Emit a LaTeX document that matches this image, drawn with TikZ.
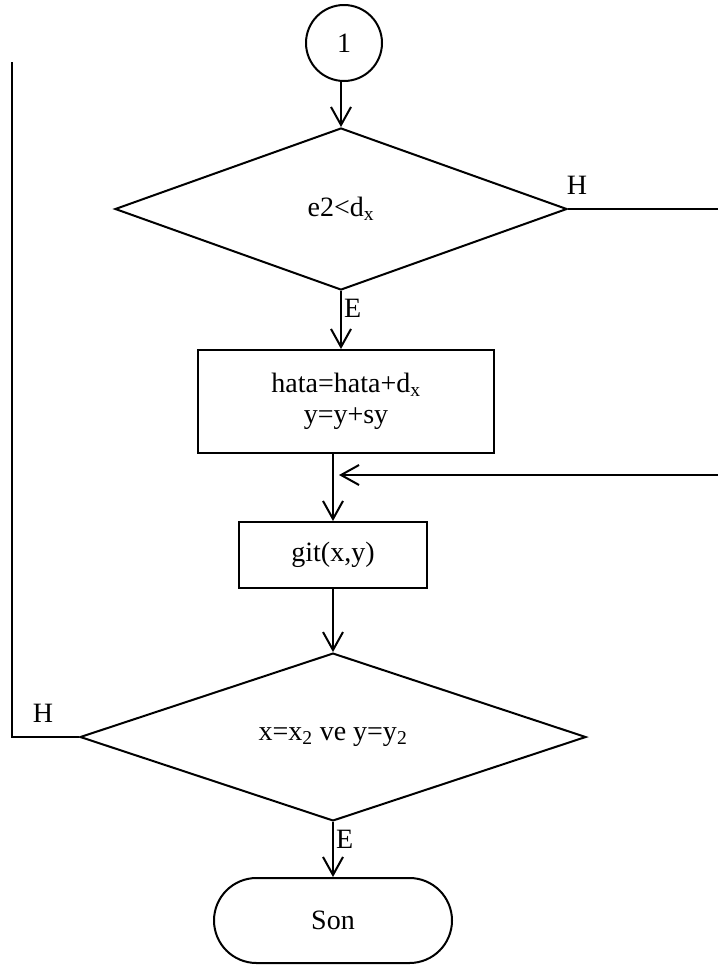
\documentclass[tikz,border=0pt]{standalone}
\usepackage{fontspec}
\setmainfont{Liberation Serif}
\usetikzlibrary{arrows.meta,shapes.geometric,shapes.misc}

\tikzset{
  hat/.style={line width=2pt},
  ok/.style={hat,-{Straight Barb[length=18pt,width=20pt,line width=2pt]}},
  karar/.style={draw,diamond,line width=2pt,inner sep=0pt},
  islem/.style={draw,rectangle,line width=2pt,inner sep=0pt,align=center},
  baglanti/.style={draw,circle,line width=2pt,inner sep=0pt,minimum size=76pt},
  bitis/.style={draw,rounded rectangle,line width=2pt,inner sep=0pt},
  etiket/.style={inner sep=0pt}
}

\begin{document}
\begin{tikzpicture}[x=1pt,y=-1pt,font=\fontsize{28}{31}\selectfont]
    \useasboundingbox (0,0) rectangle (718,967);

    \node[baglanti] (c1) at (344,43) {1};
    \node[karar,minimum width=452pt,minimum height=162pt] (d1) at (341,209) {e2<d\textsubscript{x}};
    \node[islem,minimum width=296pt,minimum height=103pt] (b1) at (346,401.5) {hata=hata+d\textsubscript{x}\\y=y+sy};
    \node[islem,minimum width=188pt,minimum height=66pt] (g1) at (333,555) {git(x,y)};
    \node[karar,minimum width=506pt,minimum height=146pt] (d2) at (333,737) {x=x\textsubscript{2} ve y=y\textsubscript{2}};
    \node[bitis,minimum width=238pt,minimum height=85pt] (son) at (333,920.5) {Son};

    \coordinate (sagust) at (718,209);
    \coordinate (sagalt) at (718,475);
    \coordinate (donus) at (g1.north |- sagalt);
    \coordinate (solalt) at (12,737);
    \coordinate (solust) at (12,62);

    \draw[ok] (d1.north |- c1.south) -- (d1.north);
    \draw[ok] (d1.south) -- (d1.south |- b1.north);
    \draw[ok] (g1.north |- b1.south) -- (g1.north);
    \draw[ok] (g1.south) -- (d2.north);
    \draw[ok] (d2.south) -- (son.north);

    \draw[hat] (d1.east) -- (sagust);
    \draw[ok] (sagalt) -- ([xshift=6pt]donus);
    \draw[hat] (d2.west) -- (solalt) -- (solust);

    \node[etiket] (h1) at (577,185) {H};
    \node[etiket] (h2) at (43,713) {H};
    \node[etiket,anchor=west] (e1) at ([xshift=3pt,yshift=-17pt]d1.south) {E};
    \node[etiket,anchor=west] (e2) at ([xshift=3pt,yshift=-17pt]d2.south) {E};
\end{tikzpicture}
\end{document}
